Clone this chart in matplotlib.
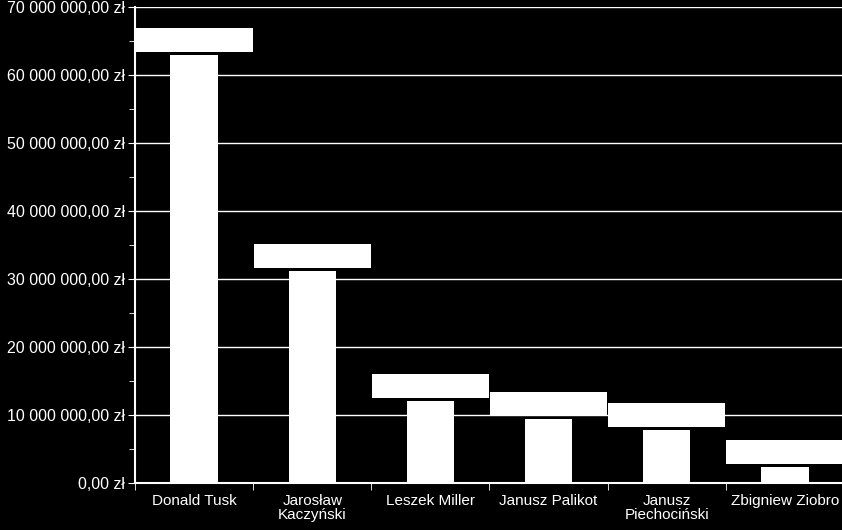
import matplotlib.pyplot as plt
import numpy as np
from matplotlib.ticker import FuncFormatter, MultipleLocator

# kandydaci i wartości (zł)
names = ['Donald Tusk', 'Jarosław\nKaczyński', 'Leszek Miller', 'Janusz Palikot',
         'Janusz\nPiechociński', 'Zbigniew Ziobro']
values = [62900000, 31200000, 12100000, 9400000, 7800000, 2350000]

plt.rcParams['font.family'] = ['Liberation Sans', 'DejaVu Sans']


def pln(v, pos=None):
    s = '{:,.2f}'.format(v).replace(',', ' ').replace('.', ',')
    return s + ' zł'


fig = plt.figure(figsize=(8.42, 5.30), dpi=100, facecolor='black')
ax = fig.add_axes([135 / 842, 47 / 530, 709 / 842, 476 / 530])
ax.set_facecolor('black')

x = np.arange(len(names))
ax.bar(x, values, width=0.4, color='white', zorder=3)

# etykiety danych - białe pola z białym tekstem
label_h = 3550000
gap = 450000
ax.bar(x, label_h, bottom=np.array(values) + gap, width=0.99, color='white', zorder=4)
for xi, v in zip(x, values):
    ax.text(xi, v + gap + label_h / 2, pln(v), ha='center', va='center',
            fontsize=11, color='white', zorder=5)

ax.set_xlim(-0.5, 5.5)
ax.set_ylim(0, 70000000)
ax.yaxis.set_major_locator(MultipleLocator(10000000))
ax.yaxis.set_minor_locator(MultipleLocator(5000000))
ax.yaxis.set_major_formatter(FuncFormatter(pln))
ax.grid(axis='y', color='white', linewidth=1, zorder=1)

ax.set_xticks(x)
ax.set_xticklabels(names, fontsize=11, color='white', linespacing=1.0)
ax.set_xticks(np.arange(-0.5, 6, 1), minor=True)
ax.tick_params(axis='x', which='major', length=0, pad=8)
ax.tick_params(axis='x', which='minor', length=5, color='white', direction='out')
ax.tick_params(axis='y', which='major', length=5, color='white', labelsize=11.5,
               labelcolor='white', pad=2)
ax.tick_params(axis='y', which='minor', length=4, color='white')

for side in ['top', 'right']:
    ax.spines[side].set_visible(False)
for side in ['left', 'bottom']:
    ax.spines[side].set_color('white')
    ax.spines[side].set_linewidth(1.5)

fig.savefig('out.png', dpi=100, facecolor='black')
